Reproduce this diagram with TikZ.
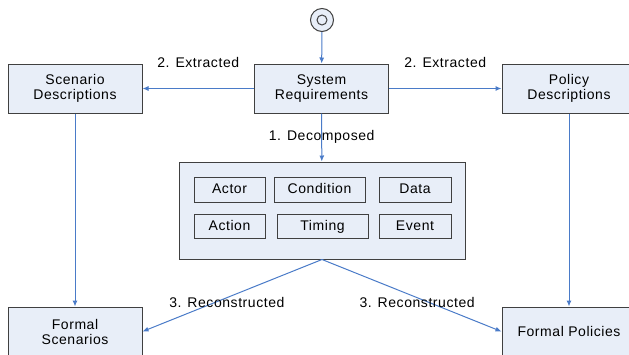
\documentclass[tikz,border=0pt]{standalone}
\usepackage{fontspec}
\setmainfont[LetterSpace=4]{Liberation Sans}
\usetikzlibrary{arrows.meta}
\definecolor{boxfill}{HTML}{E8EEF8}
\definecolor{boxline}{HTML}{404040}
\definecolor{flowblue}{HTML}{4A7BC8}

\begin{document}
\begin{tikzpicture}[
    x=1pt, y=-1pt,
    block/.style ={
        draw=boxline,
        fill=boxfill,
        line width=1pt,
        minimum width=134pt,
        minimum height=49pt,
        inner sep=0pt,
        align=center,
        font=\fontsize{14}{15}\selectfont
    },
    item/.style ={
        draw=boxline,
        line width=0.9pt,
        minimum height=24.5pt,
        text height=10pt,
        text depth=3pt,
        inner sep=0pt,
        font=\fontsize{14}{15}\selectfont
    },
    lbl/.style ={
        inner sep=0pt,
        font=\fontsize{14}{15}\selectfont
    },
    flow/.style ={
        draw=flowblue,
        line width=1pt,
        -{Latex[length=6pt,width=5pt]}
    }
    ]
    \clip (0,0) rectangle (629,354);

    \node[circle, draw=boxline, fill=boxfill, line width=1pt, minimum size=23pt, inner sep=0pt] (start) at (322,20) {};
    \draw[boxline, line width=1pt] (start.center) circle (5);

    \foreach \x/ \pos/ \txt in {{sys/(321.5,88.5)/System\\Requirements}, {scen/(75,88.5)/Scenario\\Descriptions},
                                {pol/(569,88.5)/Policy\\Descriptions}, {fscen/(75,331.5)/Formal\\Scenarios},
                                {fpol/(569,331.5)/Formal Policies}}
        \node[block] (\x) at \pos {\txt};

    \node[block, minimum width=286pt, minimum height=97pt] (elems) at (322,210.5) {};

    \foreach \x/ \pos/ \w/ \txt in {{act/(229.5,190)/71/Actor}, {cond/(319.5,190)/91/Condition}, {data/(415,190)/72/Data},
                                    {actn/(229.5,226.5)/71/Action}, {tim/(322.5,226.5)/91/Timing}, {evt/(415,226.5)/72/Event}}
        \node[item, minimum width=\w pt] (\x) at \pos {\txt};

    \draw[flow] (start) -- (sys);
    \draw[flow] (sys) -- node[lbl, midway, above=20pt] {2. Extracted} (scen);
    \draw[flow] (sys) -- node[lbl, midway, above=20pt] {2. Extracted} (pol);
    \draw[flow] (sys) -- node[lbl, midway, yshift=1pt] {1. Decomposed} (elems);

    \foreach \src/ \dst in {elems.south/fscen.east, elems.south/fpol.west}
        \draw[flow] (\src) -- node[lbl, pos=0.53, yshift=-5pt] {3. Reconstructed} (\dst);

    \draw[flow] (scen) -- (fscen);
    \draw[flow] (pol) -- (fpol);
\end{tikzpicture}
\end{document}
